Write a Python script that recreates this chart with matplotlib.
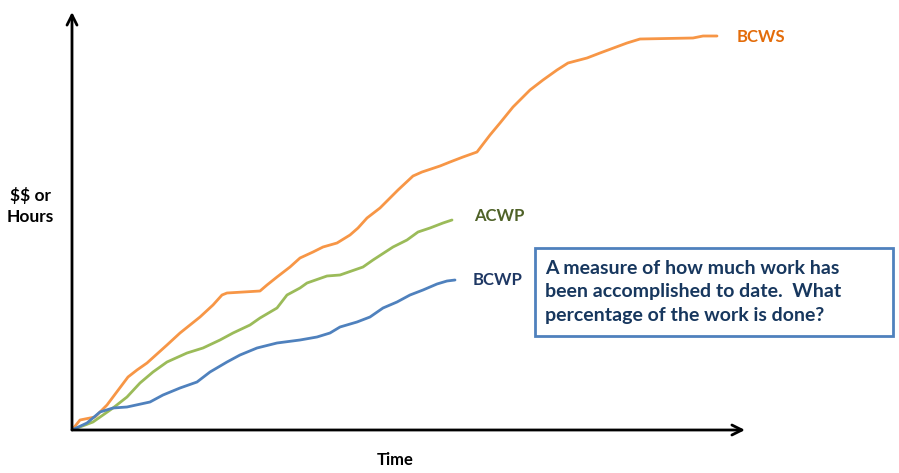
import matplotlib
matplotlib.use("Agg")
import matplotlib.pyplot as plt

# cumulative curves, time vs. amount (arbitrary units)
bcws_t = [0, 8, 23, 35, 56, 65, 75, 95, 108, 128, 141, 150, 155, 188, 195, 205,
          218, 228, 241, 251, 265, 278, 286, 295, 308, 318, 326, 341, 350, 368,
          378, 391, 405, 418, 428, 441, 458, 471, 485, 496, 515, 528, 555, 568,
          621, 631, 645]
bcws_v = [0, 10, 13, 25, 53, 60, 67, 85, 97, 113, 125, 135, 137, 139, 145, 153,
          163, 172, 178, 183, 187, 195, 202, 212, 222, 232, 240, 254, 258, 264,
          268, 273, 278, 295, 307, 323, 340, 350, 360, 367, 372, 377, 387, 391,
          392, 394, 394]

acwp_t = [0, 21, 41, 55, 68, 81, 95, 115, 131, 148, 161, 178, 188, 205, 215,
          228, 235, 255, 268, 291, 301, 321, 335, 346, 358, 371, 380]
acwp_v = [0, 8, 22, 33, 47, 58, 68, 77, 82, 90, 97, 105, 112, 122, 135,
          142, 147, 154, 155, 163, 170, 183, 190, 198, 202, 207, 210]

bcwp_t = [0, 15, 28, 41, 55, 78, 91, 108, 125, 138, 155, 168, 185, 205, 228,
          245, 258, 268, 285, 298, 311, 325, 338, 351, 365, 375, 383]
bcwp_v = [0, 7, 18, 22, 23, 28, 35, 42, 48, 58, 68, 75, 82, 87, 90,
          93, 97, 103, 108, 113, 122, 128, 135, 140, 146, 149, 150]

W, H = 899, 473
fig = plt.figure(figsize=(W / 100, H / 100), dpi=100)
ax = fig.add_axes([72 / W, 1 - 430 / H, 673 / W, 418 / H])
ax.set_xlim(0, 673)
ax.set_ylim(0, 418)
ax.axis("off")

lw = 2.0
ax.plot(bcws_t, bcws_v, color="#F79646", lw=lw, solid_capstyle="round", zorder=3)
ax.plot(acwp_t, acwp_v, color="#9BBB59", lw=lw, solid_capstyle="round", zorder=3)
ax.plot(bcwp_t, bcwp_v, color="#4F81BD", lw=lw, solid_capstyle="round", zorder=3)

# axes drawn as arrows
arrow = dict(arrowstyle="->", color="black", lw=2.0, mutation_scale=18,
             shrinkA=0, shrinkB=0)
ax.annotate("", xy=(0, 1), xytext=(0, 0), xycoords="axes fraction",
            textcoords="axes fraction", arrowprops=arrow)
ax.annotate("", xy=(1, 0), xytext=(0, 0), xycoords="axes fraction",
            textcoords="axes fraction", arrowprops=arrow)

font = "Lato"
ax.text(665, 393, "BCWS", color="#E36C0A", fontsize=12, fontweight="bold",
        family=font, va="center", ha="left")
ax.text(402, 214, "ACWP", color="#4F6228", fontsize=12, fontweight="bold",
        family=font, va="center", ha="left")
ax.text(401, 150, "BCWP", color="#1F3864", fontsize=12, fontweight="bold",
        family=font, va="center", ha="left")

fig.text(30 / W, 1 - 206 / H, "\\$\\$ or\nHours", ha="center", va="center",
         fontsize=12.5, fontweight="bold", family=font, linespacing=1.35)
fig.text(395 / W, 1 - 460 / H, "Time", ha="center", va="center",
         fontsize=12, fontweight="bold", family=font)

# note box
box = plt.Rectangle((535 / W, 1 - 336 / H), 358 / W, 88 / H,
                    transform=fig.transFigure, fill=False,
                    edgecolor="#4F81BD", lw=2.0)
fig.patches.append(box)
fig.text(545 / W, 1 - 292 / H,
         "A measure of how much work has\nbeen accomplished to date.  What\n"
         "percentage of the work is done?",
         ha="left", va="center", fontsize=14, fontweight="bold", family=font,
         color="#17375E", linespacing=1.5)

fig.savefig("out.png", dpi=100, facecolor="white")
